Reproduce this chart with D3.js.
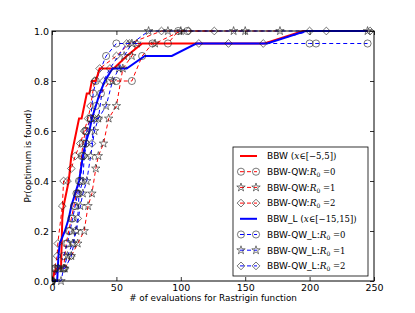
<!DOCTYPE html>
<html>
<head>
<meta charset="utf-8">
<script src="https://cdn.jsdelivr.net/npm/d3@7"></script>
<style>
  body { margin: 0; background: #fff; }
  text { font-family: "DejaVu Sans", sans-serif; }
</style>
</head>
<body>
<div id="chart"></div>
<script>
// x = evaluations, y = Pr(optimum is found)
const bbw = [[0,0],[3,0.05],[7,0.05],[8,0.25],[9,0.3],[11,0.35],[13,0.4],[15,0.5],[17,0.55],[19,0.6],[21,0.65],[23,0.65],[25,0.7],[27,0.75],[29,0.75],[31,0.8],[34,0.8],[37,0.85],[48,0.85],[58,0.9],[70,0.95],[165,0.95],[195,1.0],[245,1.0]];
const qw0 = [[0,0],[2,0.05],[9,0.05],[11,0.15],[13,0.2],[15,0.25],[17,0.3],[19,0.35],[21,0.4],[23,0.5],[24,0.55],[26,0.6],[30,0.65],[34,0.7],[38,0.75],[45,0.8],[50,0.8],[62,0.8],[70,0.9],[78,0.95],[90,0.95],[98,1.0],[105,1.0]];
const qw1 = [[0,0],[5,0.05],[10,0.05],[15,0.1],[20,0.15],[25,0.2],[28,0.3],[31,0.35],[34,0.45],[36,0.5],[40,0.55],[44,0.65],[50,0.7],[55,0.85],[62,0.9],[66,0.95],[80,0.95],[100,1.0],[141,1.0],[150,1.0],[177,1.0]];
const qw2 = [[0,0],[2,0.05],[4,0.1],[4.5,0.15],[8,0.3],[9,0.4],[12,0.4],[15,0.45],[18,0.5],[22,0.55],[25,0.6],[28,0.65],[30,0.7],[33,0.8],[37,0.85],[50,0.9],[60,0.95],[85,1.0],[106,1.0],[126,1.0]];
const bbwL = [[0,0],[4,0],[5,0.1],[6,0.15],[10,0.2],[13,0.25],[15,0.3],[18,0.35],[21,0.4],[24,0.5],[26,0.55],[29,0.6],[31,0.65],[34,0.7],[37,0.75],[41,0.8],[47,0.85],[58,0.85],[72,0.9],[93,0.9],[112,0.95],[167,0.95],[197,1.0],[245,1.0]];
const qwL0 = [[0,0],[5,0.05],[9,0.1],[12,0.15],[14,0.2],[16,0.25],[18,0.3],[20,0.35],[22,0.4],[24,0.5],[26,0.55],[27,0.6],[30,0.65],[32,0.75],[34,0.8],[42,0.9],[50,0.95],[200,0.95],[205,0.95],[245,0.95]];
const qwL1 = [[0,0],[7,0],[9,0.05],[12,0.1],[16,0.15],[19,0.2],[22,0.3],[24,0.35],[27,0.4],[30,0.5],[33,0.6],[36,0.65],[42,0.7],[47,0.8],[52,0.85],[56,0.9],[62,0.95],[75,1.0],[90,1.0],[245,1.0]];
const qwL2 = [[0,0],[3,0.05],[10,0.05],[15,0.1],[17,0.15],[18,0.2],[20,0.25],[21,0.35],[24,0.4],[25,0.5],[27,0.55],[31,0.55],[33,0.65],[36,0.65],[40,0.8],[45,0.85],[58,0.95],[114,0.95],[137,0.95],[164,0.95],[200,1.0],[213,1.0],[247,1.0]];

const xTicks = [0, 50, 100, 150, 200, 250];
const yTicks = [0, 0.2, 0.4, 0.6, 0.8, 1.0];

const series = [
  { name: "BBW", data: bbw, color: "#ff0000", dash: null, marker: null, label: ["BBW (", "x", "\u2208[\u22125,5])"] },
  { name: "qw0", data: qw0, color: "#ff0000", dash: "4,3", marker: "circle", label: ["BBW-QW:", "R", "0", " =0"] },
  { name: "qw1", data: qw1, color: "#ff0000", dash: "4,3", marker: "star", label: ["BBW-QW:", "R", "0", " =1"] },
  { name: "qw2", data: qw2, color: "#ff0000", dash: "4,3", marker: "diamond", label: ["BBW-QW:", "R", "0", " =2"] },
  { name: "BBW_L", data: bbwL, color: "#0000ff", dash: null, marker: null, label: ["BBW_L (", "x", "\u2208[\u221215,15])"] },
  { name: "qwL0", data: qwL0, color: "#0000ff", dash: "4,3", marker: "circle", label: ["BBW-QW_L:", "R", "0", " =0"] },
  { name: "qwL1", data: qwL1, color: "#0000ff", dash: "4,3", marker: "star", label: ["BBW-QW_L:", "R", "0", " =1"] },
  { name: "qwL2", data: qwL2, color: "#0000ff", dash: "4,3", marker: "diamond", label: ["BBW-QW_L:", "R", "0", " =2"] }
];

const width = 415, height = 313;
const margin = { top: 31, right: 41, bottom: 32, left: 52 };

const svg = d3.select("#chart").append("svg")
  .attr("width", width)
  .attr("height", height);

const x = d3.scaleLinear().domain([0, 250]).range([margin.left, width - margin.right]);
const y = d3.scaleLinear().domain([0, 1]).range([height - margin.bottom, margin.top]);

svg.append("clipPath").attr("id", "clip")
  .append("rect")
  .attr("x", margin.left).attr("y", margin.top - 6)
  .attr("width", x(250) - x(0)).attr("height", y(0) - y(1) + 12);

const line = d3.line().x(d => x(d[0])).y(d => y(d[1]));

const symbols = {
  circle: d3.symbol().type(d3.symbolCircle).size(40),
  star: d3.symbol().type(d3.symbolStar).size(22),
  diamond: d3.symbol().type(d3.symbolSquare).size(30)
};

function drawMarker(g, type, cx, cy) {
  g.append("path")
    .attr("d", symbols[type]())
    .attr("transform", `translate(${cx},${cy})` + (type === "diamond" ? " rotate(45)" : ""))
    .attr("fill", "none")
    .attr("stroke", "#222")
    .attr("stroke-width", 0.6);
}

const plot = svg.append("g").attr("clip-path", "url(#clip)");

// dashed series first, solid lines on top
series.filter(s => s.dash).forEach(s => {
  plot.append("path")
    .datum(s.data)
    .attr("d", line)
    .attr("fill", "none")
    .attr("stroke", s.color)
    .attr("stroke-width", 1)
    .attr("stroke-dasharray", s.dash);
});
series.filter(s => !s.dash).forEach(s => {
  plot.append("path")
    .datum(s.data)
    .attr("d", line)
    .attr("fill", "none")
    .attr("stroke", s.color)
    .attr("stroke-width", 2);
});
series.filter(s => s.marker).forEach(s => {
  s.data.forEach(d => drawMarker(plot, s.marker, x(d[0]), y(d[1])));
});

// frame
svg.append("rect")
  .attr("x", x(0)).attr("y", y(1))
  .attr("width", x(250) - x(0)).attr("height", y(0) - y(1))
  .attr("fill", "none").attr("stroke", "#000").attr("stroke-width", 1);

// axes with inward ticks
const xAxis = svg.append("g").attr("transform", `translate(0,${y(0)})`)
  .call(d3.axisBottom(x).tickValues(xTicks).tickSizeInner(-4).tickSizeOuter(0).tickPadding(3).tickFormat(d3.format("d")));
const xTop = svg.append("g").attr("transform", `translate(0,${y(1)})`)
  .call(d3.axisTop(x).tickValues(xTicks).tickSizeInner(-4).tickSizeOuter(0).tickFormat(""));
const yAxis = svg.append("g").attr("transform", `translate(${x(0)},0)`)
  .call(d3.axisLeft(y).tickValues(yTicks).tickSizeInner(-4).tickSizeOuter(0).tickPadding(3).tickFormat(d3.format(".1f")));
const yRight = svg.append("g").attr("transform", `translate(${x(250)},0)`)
  .call(d3.axisRight(y).tickValues(yTicks).tickSizeInner(-4).tickSizeOuter(0).tickFormat(""));

[xAxis, xTop, yAxis, yRight].forEach(g => {
  g.select(".domain").remove();
  g.selectAll("line").attr("stroke", "#000").attr("stroke-width", 0.8);
  g.selectAll("text").attr("font-size", 9.5).attr("fill", "#000").style("font-family", "DejaVu Sans, sans-serif");
});

svg.append("text")
  .attr("x", (x(0) + x(250)) / 2).attr("y", 301)
  .attr("text-anchor", "middle").attr("font-size", 8.8)
  .text("# of evaluations for Rastrigin function");

svg.append("text")
  .attr("transform", `translate(31,${(y(0) + y(1)) / 2}) rotate(-90)`)
  .attr("text-anchor", "middle").attr("font-size", 8.8)
  .text("Pr(optimum is found)");

// legend
const lg = svg.append("g");
lg.append("rect")
  .attr("x", 233).attr("y", 147).attr("width", 135).attr("height", 129)
  .attr("fill", "#fff").attr("stroke", "#000").attr("stroke-width", 0.8);

series.forEach((s, i) => {
  const ry = 156 + i * 15.7;
  lg.append("line")
    .attr("x1", 240).attr("x2", 257).attr("y1", ry).attr("y2", ry)
    .attr("stroke", s.color)
    .attr("stroke-width", s.dash ? 1 : 2)
    .attr("stroke-dasharray", s.dash);
  if (s.marker) {
    drawMarker(lg, s.marker, 241, ry);
    drawMarker(lg, s.marker, 256, ry);
  }
  const t = lg.append("text").attr("x", 267).attr("y", ry + 3.3).attr("font-size", 9);
  if (s.label.length === 3) {
    t.append("tspan").text(s.label[0]);
    t.append("tspan").attr("font-family", "DejaVu Serif, serif").attr("font-style", "italic").text(s.label[1]);
    t.append("tspan").attr("font-family", "DejaVu Serif, serif").attr("font-size", 8.5).text(s.label[2]);
  } else {
    t.append("tspan").text(s.label[0]);
    t.append("tspan").attr("font-family", "DejaVu Serif, serif").attr("font-style", "italic").text(s.label[1]);
    t.append("tspan").attr("font-family", "DejaVu Serif, serif").attr("font-size", 6).attr("dy", 2).text(s.label[2]);
    t.append("tspan").attr("font-family", "DejaVu Serif, serif").attr("font-size", 8.5).attr("dy", -2).text(s.label[3]);
  }
});
</script>
</body>
</html>
